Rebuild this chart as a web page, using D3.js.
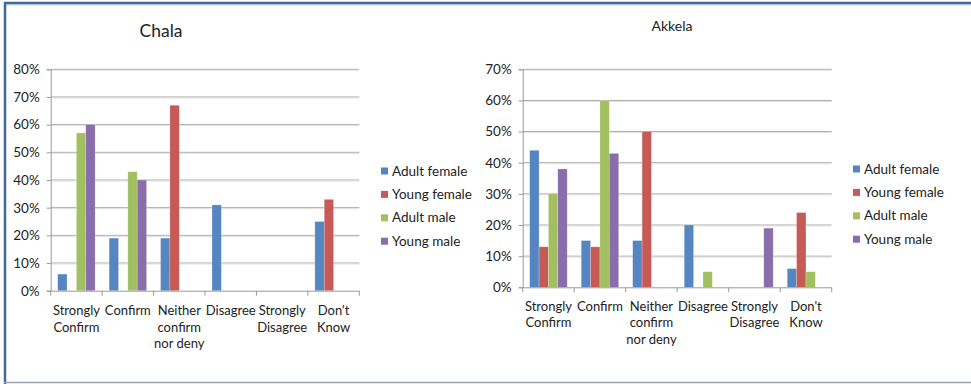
<!DOCTYPE html>
<html>
<head>
<meta charset="utf-8">
<script src="https://cdnjs.cloudflare.com/ajax/libs/d3/7.8.5/d3.min.js"></script>
<style>
  body { margin: 0; background: #fff; }
  svg text { font-family: Lato, "Liberation Sans", sans-serif; fill: #222; }
</style>
</head>
<body>
<svg id="chart" width="971" height="384"></svg>
<script>
var categories = ["Strongly Confirm", "Confirm", "Neither confirm nor deny", "Disagree", "Strongly Disagree", "Don't Know"];
var categoryLines = [["Strongly", "Confirm"], ["Confirm"], ["Neither", "confirm", "nor deny"], ["Disagree"], ["Strongly", "Disagree"], ["Don't", "Know"]];
var series = ["Adult female", "Young female", "Adult male", "Young male"];
var colors = ["#5586C2", "#C65A57", "#A2C061", "#8A6DAB"];

// Chala values (%)
var chalaAdultFemale = [6, 19, 19, 31, 0, 25];
var chalaYoungFemale = [0, 0, 67, 0, 0, 33];
var chalaAdultMale = [57, 43, 0, 0, 0, 0];
var chalaYoungMale = [60, 40, 0, 0, 0, 0];
var chalaTicks = [0, 10, 20, 30, 40, 50, 60, 70, 80];

// Akkela values (%)
var akkelaAdultFemale = [44, 15, 15, 20, 0, 6];
var akkelaYoungFemale = [13, 13, 50, 0, 0, 24];
var akkelaAdultMale = [30, 60, 0, 5, 0, 5];
var akkelaYoungMale = [38, 43, 0, 0, 19, 0];
var akkelaTicks = [0, 10, 20, 30, 40, 50, 60, 70];

var svg = d3.select("#chart");

// frame
svg.append("line").attr("x1", 4).attr("x2", 971).attr("y1", 3).attr("y2", 3)
    .attr("stroke", "#41699A").attr("stroke-width", 2.5);
svg.append("line").attr("x1", 4).attr("x2", 971).attr("y1", 4.8).attr("y2", 4.8)
    .attr("stroke", "#9DB0C8").attr("stroke-width", 0.8);
svg.append("line").attr("x1", 5).attr("x2", 5).attr("y1", 2).attr("y2", 384)
    .attr("stroke", "#41699A").attr("stroke-width", 2.5);
svg.append("line").attr("x1", 4).attr("x2", 971).attr("y1", 382.5).attr("y2", 382.5)
    .attr("stroke", "#9AA5B1").attr("stroke-width", 1.5);

function drawChart(opt) {
    var g = svg.append("g");
    var values = [opt.af, opt.yf, opt.am, opt.ym];

    var x = d3.scaleBand().domain(categories).range([opt.left, opt.right]);
    var xs = d3.scaleBand().domain(series).range([0, x.bandwidth()]).paddingOuter(0.75);
    var y = d3.scaleLinear().domain([0, d3.max(opt.ticks)]).range([opt.bottom, opt.top]);

    // gridlines
    opt.ticks.forEach(function (t) {
        if (t == 0) return;
        g.append("line").attr("x1", opt.left).attr("x2", opt.right)
            .attr("y1", y(t)).attr("y2", y(t))
            .attr("stroke", "#A8A8A8").attr("stroke-width", 1);
        g.append("line").attr("x1", opt.left).attr("x2", opt.right)
            .attr("y1", y(t) + 1).attr("y2", y(t) + 1)
            .attr("stroke", "#E0E0E0").attr("stroke-width", 1);
    });

    // y axis
    var yAxis = d3.axisLeft(y).tickValues(opt.ticks).tickSize(4).tickPadding(7)
        .tickFormat(function (d) { return d + "%"; });
    var ya = g.append("g").attr("transform", "translate(" + opt.left + ",0)").call(yAxis);
    ya.select(".domain").attr("stroke", "#9A9A9A");
    ya.selectAll(".tick line").attr("stroke", "#9A9A9A");
    ya.selectAll("text").style("font-size", "13.5px").attr("fill", "#222")
        .style("font-family", "Lato, sans-serif");

    // bars
    series.forEach(function (s, si) {
        g.selectAll(".bar" + si)
            .data(values[si])
            .enter()
            .append("rect")
            .attr("x", function (d, i) { return x(categories[i]) + xs(s); })
            .attr("y", function (d) { return y(d); })
            .attr("width", xs.bandwidth())
            .attr("height", function (d) { return opt.bottom - y(d); })
            .attr("fill", colors[si])
            .attr("stroke", function (d) { return d > 0 ? "rgba(255,255,255,0.35)" : "none"; })
            .attr("stroke-width", 0.6);
    });

    // x axis
    var xAxisLine = g.append("g");
    xAxisLine.append("line").attr("x1", opt.left).attr("x2", opt.right)
        .attr("y1", opt.bottom + 0.5).attr("y2", opt.bottom + 0.5)
        .attr("stroke", "#9A9A9A");
    var bounds = categories.map(function (c) { return x(c); }).concat([opt.right]);
    bounds.forEach(function (b) {
        xAxisLine.append("line").attr("x1", b).attr("x2", b)
            .attr("y1", opt.bottom).attr("y2", opt.bottom + 5)
            .attr("stroke", "#9A9A9A");
    });

    categoryLines.forEach(function (lines, i) {
        var t = g.append("text")
            .attr("x", x(categories[i]) + x.bandwidth() / 2)
            .attr("y", opt.labelY)
            .attr("text-anchor", "middle")
            .style("font-size", "13px");
        lines.forEach(function (l, li) {
            t.append("tspan").attr("x", x(categories[i]) + x.bandwidth() / 2)
                .attr("dy", li == 0 ? 0 : 16.5).text(l);
        });
    });

    // title
    g.append("text").attr("x", opt.titleX).attr("y", opt.titleY)
        .attr("text-anchor", "middle").style("font-size", opt.titleSize + "px")
        .text(opt.title);

    // legend
    series.forEach(function (s, si) {
        var ly = opt.legendY + si * 23.4;
        g.append("rect").attr("x", opt.legendX).attr("y", ly - 3.5)
            .attr("width", 7).attr("height", 7).attr("fill", colors[si]);
        g.append("text").attr("x", opt.legendX + 11).attr("y", ly + 4.6)
            .style("font-size", "13.5px").text(s);
    });
}

drawChart({
    title: "Chala", titleX: 161, titleY: 37, titleSize: 17.5,
    left: 50.7, right: 359.3, top: 69.3, bottom: 290.7,
    ticks: chalaTicks, labelY: 315,
    af: chalaAdultFemale, yf: chalaYoungFemale, am: chalaAdultMale, ym: chalaYoungMale,
    legendX: 381, legendY: 171
});

drawChart({
    title: "Akkela", titleX: 672, titleY: 30.5, titleSize: 14,
    left: 522.7, right: 831.7, top: 69.3, bottom: 287.3,
    ticks: akkelaTicks, labelY: 310.5,
    af: akkelaAdultFemale, yf: akkelaYoungFemale, am: akkelaAdultMale, ym: akkelaYoungMale,
    legendX: 853, legendY: 169
});
</script>
</body>
</html>
